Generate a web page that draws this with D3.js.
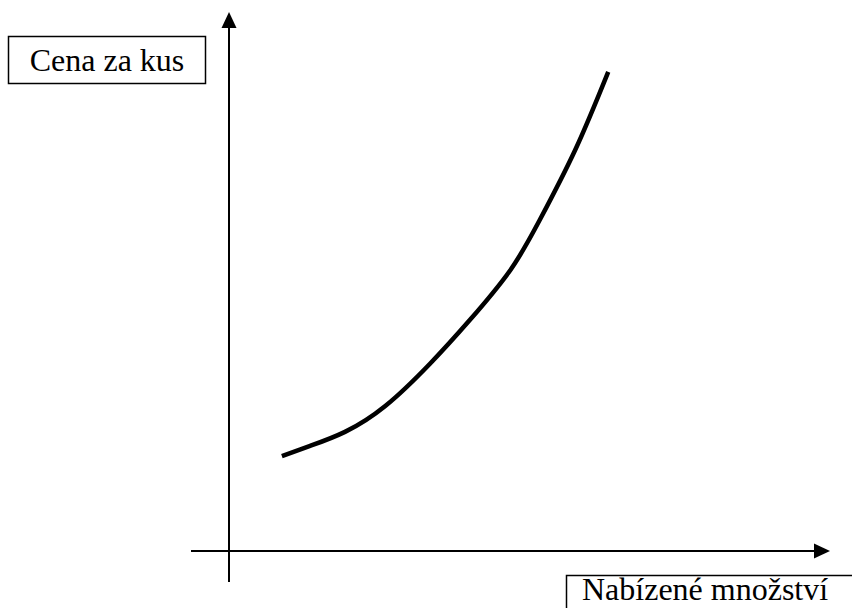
<!DOCTYPE html>
<html>
<head>
<meta charset="utf-8">
<script src="https://cdn.jsdelivr.net/npm/d3@7"></script>
<style>
  html, body { margin: 0; padding: 0; background: #fff; }
  svg { display: block; }
</style>
</head>
<body>
<svg id="chart" width="852" height="608"></svg>
<script>
// Data (arbitrary units, origin at axis crossing)
const quantity = [8.8, 13.5, 19.3, 26.0, 33.4, 40.1, 46.8, 51.7, 57.6, 63.1];
const price    = [17.6, 19.5, 22.1, 26.9, 34.7, 42.9, 52.1, 61.4, 74.4, 88.9];
const yLabel = "Cena za kus";
const xLabel = "Nabízené množství";

const svg = d3.select("#chart");
const originX = 229, originY = 551;

const x = d3.scaleLinear().domain([0, 100]).range([originX, originX + 601]);
const y = d3.scaleLinear().domain([0, 100]).range([originY, originY - 539]);

const ink = "#000";

// Axes lines
const xStart = x.invert(191), yStart = y.invert(582);
svg.append("line")
  .attr("x1", x(xStart)).attr("y1", y(0))
  .attr("x2", x(100) - 12).attr("y2", y(0))
  .attr("stroke", ink).attr("stroke-width", 2);
svg.append("line")
  .attr("x1", x(0)).attr("y1", y(yStart))
  .attr("x2", x(0)).attr("y2", y(100) + 12)
  .attr("stroke", ink).attr("stroke-width", 2);

// Arrowheads
const ah = 16, aw = 7.5;
svg.append("path")
  .attr("d", `M${x(100)},${y(0)} L${x(100) - ah},${y(0) - aw} L${x(100) - ah},${y(0) + aw} Z`)
  .attr("fill", ink);
svg.append("path")
  .attr("d", `M${x(0)},${y(100)} L${x(0) - aw},${y(100) + ah} L${x(0) + aw},${y(100) + ah} Z`)
  .attr("fill", ink);

// Supply curve
const pts = quantity.map((q, i) => [q, price[i]]);
const line = d3.line()
  .x(d => x(d[0])).y(d => y(d[1]))
  .curve(d3.curveNatural);
svg.append("path")
  .attr("d", line(pts))
  .attr("fill", "none")
  .attr("stroke", ink)
  .attr("stroke-width", 4.5);

// Label boxes
const font = "'Liberation Serif', 'Times New Roman', serif";
const g1 = svg.append("g");
g1.append("rect").attr("x", 8.5).attr("y", 36.5).attr("width", 197).attr("height", 47)
  .attr("fill", "#fff").attr("stroke", ink).attr("stroke-width", 1.5);
g1.append("text").attr("x", 107).attr("y", 71).attr("text-anchor", "middle")
  .attr("font-family", font).attr("font-size", 32).attr("fill", ink).text(yLabel);

const g2 = svg.append("g");
g2.append("rect").attr("x", 566.5).attr("y", 575.5).attr("width", 300).attr("height", 60)
  .attr("fill", "#fff").attr("stroke", ink).attr("stroke-width", 1.5);
g2.append("text").attr("x", 582).attr("y", 600)
  .attr("font-family", font).attr("font-size", 32).attr("fill", ink).text(xLabel);
</script>
</body>
</html>
